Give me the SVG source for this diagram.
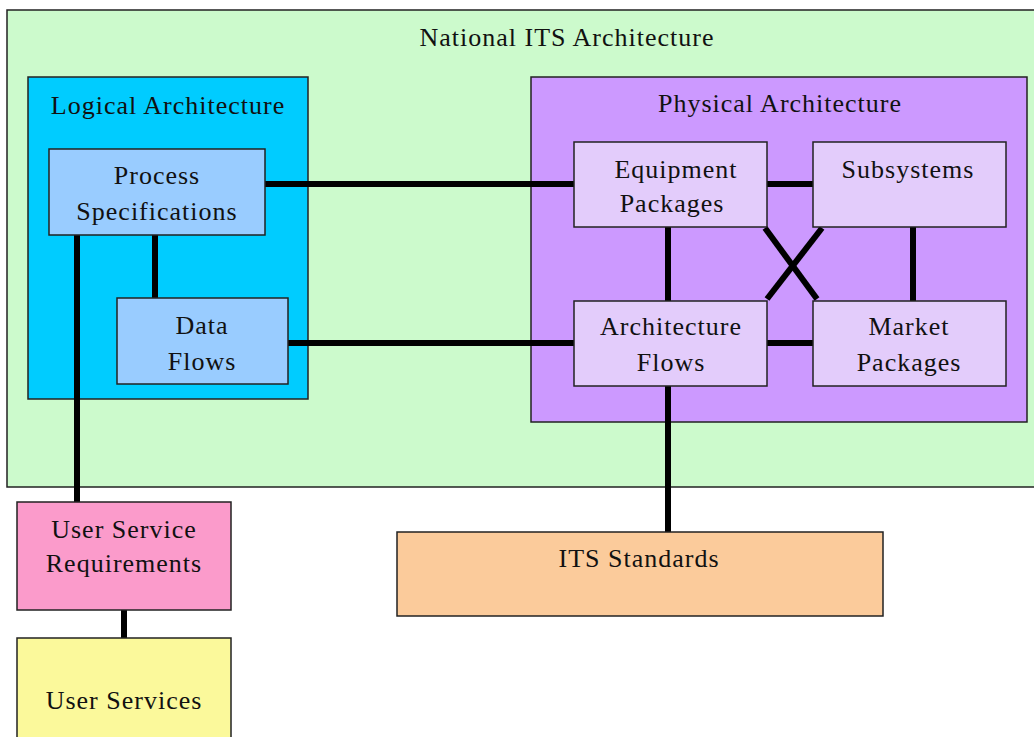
<svg xmlns="http://www.w3.org/2000/svg" width="1034" height="737" viewBox="0 0 1034 737">
<style>
.box{stroke:#222;stroke-width:1.5}
.t{font-family:"Liberation Serif","Times New Roman",serif;font-size:26px;fill:#111;text-anchor:middle;letter-spacing:1px}
.c{stroke:#000;stroke-width:6;fill:none}
</style>
<rect width="1034" height="737" fill="#fff"/>
<g id="national"><rect class="box" x="7" y="10" width="1040" height="477" fill="#CCFACC"/><text class="t" x="567" y="46">National ITS Architecture</text></g>
<g id="logical"><rect class="box" x="28" y="77" width="280" height="322" fill="#00CCFF"/><text class="t" x="168" y="114">Logical Architecture</text></g>
<g id="physical"><rect class="box" x="531" y="77" width="496" height="345" fill="#CC99FF"/><text class="t" x="780" y="112">Physical Architecture</text></g>
<g id="connectors">
<line class="c" x1="265" y1="184" x2="574" y2="184"/>
<line class="c" x1="288" y1="343" x2="574" y2="343"/>
<line class="c" x1="155" y1="235" x2="155" y2="298"/>
<line class="c" x1="77" y1="235" x2="77" y2="502"/>
<line class="c" x1="124" y1="610" x2="124" y2="638"/>
<line class="c" x1="767" y1="184" x2="813" y2="184"/>
<line class="c" x1="767" y1="343" x2="813" y2="343"/>
<line class="c" x1="668" y1="227" x2="668" y2="301"/>
<line class="c" x1="913" y1="227" x2="913" y2="301"/>
<line class="c" x1="765" y1="228" x2="817" y2="299"/>
<line class="c" x1="822" y1="228" x2="767" y2="299"/>
<line class="c" x1="668" y1="386" x2="668" y2="532"/>
</g>
<g id="process"><rect class="box" x="49" y="149" width="216" height="86" fill="#99CCFF"/><text class="t" x="157" y="184">Process</text><text class="t" x="157" y="220">Specifications</text></g>
<g id="dataflows"><rect class="box" x="117" y="298" width="171" height="86" fill="#99CCFF"/><text class="t" x="202" y="334">Data</text><text class="t" x="202" y="370">Flows</text></g>
<g id="equipment"><rect class="box" x="574" y="142" width="193" height="85" fill="#E3CCFB"/><text class="t" x="676" y="178">Equipment</text><text class="t" x="672" y="212">Packages</text></g>
<g id="subsystems"><rect class="box" x="813" y="142" width="193" height="85" fill="#E3CCFB"/><text class="t" x="908" y="178">Subsystems</text></g>
<g id="archflows"><rect class="box" x="574" y="301" width="193" height="85" fill="#E3CCFB"/><text class="t" x="671" y="335">Architecture</text><text class="t" x="671" y="371">Flows</text></g>
<g id="market"><rect class="box" x="813" y="301" width="193" height="85" fill="#E3CCFB"/><text class="t" x="909" y="335">Market</text><text class="t" x="909" y="371">Packages</text></g>
<g id="standards"><rect class="box" x="397" y="532" width="486" height="84" fill="#FBCB9B"/><text class="t" x="639" y="567">ITS Standards</text></g>
<g id="usr"><rect class="box" x="17" y="502" width="214" height="108" fill="#FB9BCB"/><text class="t" x="124" y="538">User Service</text><text class="t" x="124" y="572">Requirements</text></g>
<g id="userservices"><rect class="box" x="17" y="638" width="214" height="110" fill="#FBF99B"/><text class="t" x="124" y="709">User Services</text></g>
</svg>
